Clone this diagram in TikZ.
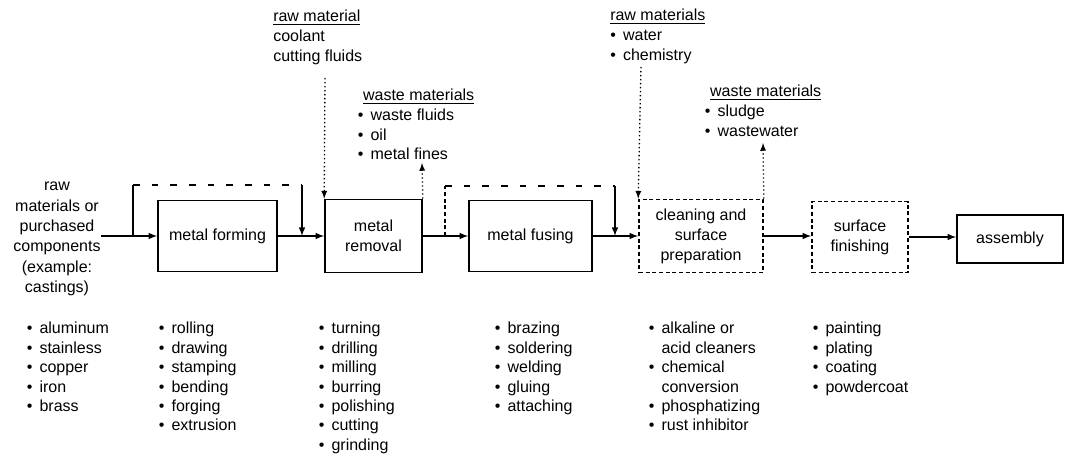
\documentclass[tikz,border=0pt]{standalone}
\usepackage{fontspec}
\setmainfont{Liberation Sans}
\usetikzlibrary{positioning}

\newcommand{\lstbul}{\textbullet\hspace{0.45em}}
\newcommand{\lstgap}{\hphantom{\textbullet}\hspace{0.45em}}

\begin{document}
\begin{tikzpicture}[x=0.75pt, y=-0.75pt, >=latex,
    stepbox/.style={draw, very thick, align=center, inner sep=0pt, font=\fontsize{12}{15}\selectfont},
    flow/.style={->, very thick},
    feed/.style={->, dotted, line width=1pt},
    bypass/.style={very thick, dash pattern=on 5pt off 9pt},
    labeltext/.style={anchor=north west, align=left, inner sep=0pt, font=\fontsize{12}{14.7}\selectfont},
    listtext/.style={anchor=north west, align=left, inner sep=0pt, font=\fontsize{12}{14.55}\selectfont}]

\useasboundingbox (0,0) rectangle (1065,460);

% Input text
\node[align=center, inner sep=0pt, font=\fontsize{12}{15.2}\selectfont] (rawin) at (57,239) {raw\\materials or\\purchased\\components\\(example:\\castings)};

% Process boxes
\node[stepbox, minimum width=89.25pt, minimum height=53.25pt] (forming) at (217.5,236) {metal forming};
\node[stepbox, minimum width=72.75pt, minimum height=54.75pt] (removal) at (373.5,236) {metal\\removal};
\node[stepbox, minimum width=92.25pt, minimum height=53.25pt] (fusing) at (530.5,236) {metal fusing};
\node[stepbox, densely dashed, minimum width=93pt, minimum height=54.75pt] (cleaning) at (701,236) {cleaning and\\surface\\preparation};
\node[stepbox, densely dashed, minimum width=72pt, minimum height=53.25pt] (finishing) at (860,237) {surface\\finishing};
\node[stepbox, minimum width=79.5pt, minimum height=36pt] (assembly) at (1010,239) {assembly};

% Main flow
\draw[flow] (rawin.east |- forming.west) -- (forming.west);
\draw[flow] (forming.east) -- (removal.west);
\draw[flow] (removal.east) -- (fusing.west);
\draw[flow] (fusing.east) -- (cleaning.west);
\draw[flow] (cleaning.east) -- (cleaning.east -| finishing.west);
\draw[flow] (finishing.east) -- (finishing.east -| assembly.west);

% Bypass lines
\coordinate (split1) at (133,236);
\coordinate (top1l) at (133,185);
\coordinate (top1r) at (302,185);
\coordinate (join1) at (302,236);
\draw[very thick] (split1) -- (top1l);
\draw[bypass] (top1l) -- (top1r);
\draw[flow] (top1r) -- (join1);

\coordinate (split2) at (445,236);
\coordinate (top2l) at (445,186);
\coordinate (top2r) at (615,186);
\coordinate (join2) at (615,236);
\draw[very thick, densely dashed] (split2) -- (top2l);
\draw[bypass] (top2l) -- (top2r);
\draw[flow] (top2r) -- (join2);

% Raw and waste materials
\node[labeltext] (rawmat1) at (273,10) {\underline{raw material}\\coolant\\cutting fluids};
\node[labeltext] (waste1) at (357.5,89) {\hspace{4pt}\underline{waste materials}\\\lstbul waste fluids\\\lstbul oil\\\lstbul metal fines};
\node[labeltext] (rawmat2) at (610,9) {\underline{raw materials}\\\lstbul water\\\lstbul chemistry};
\node[labeltext] (waste2) at (704.5,85) {\hspace{4pt}\underline{waste materials}\\\lstbul sludge\\\lstbul wastewater};

\coordinate (rm1) at (325,78);
\coordinate (wm1) at (422,163);
\coordinate (rm2) at (641,67);
\coordinate (wm2) at (763,143);
\draw[feed] (rm1) -- (removal.north west);
\draw[feed] (removal.north east) -- (wm1);
\draw[feed] (rm2) -- (cleaning.north west);
\draw[feed] (cleaning.north east) -- (wm2);

% Lists below
\node[listtext] (list1) at (26.5,322) {\lstbul aluminum\\\lstbul stainless\\\lstbul copper\\\lstbul iron\\\lstbul brass};
\node[listtext] (list2) at (158.5,322) {\lstbul rolling\\\lstbul drawing\\\lstbul stamping\\\lstbul bending\\\lstbul forging\\\lstbul extrusion};
\node[listtext] (list3) at (318.5,322) {\lstbul turning\\\lstbul drilling\\\lstbul milling\\\lstbul burring\\\lstbul polishing\\\lstbul cutting\\\lstbul grinding};
\node[listtext] (list4) at (494.5,322) {\lstbul brazing\\\lstbul soldering\\\lstbul welding\\\lstbul gluing\\\lstbul attaching};
\node[listtext] (list5) at (648.5,322) {\lstbul alkaline or\\\lstgap acid cleaners\\\lstbul chemical\\\lstgap conversion\\\lstbul phosphatizing\\\lstbul rust inhibitor};
\node[listtext] (list6) at (812.5,322) {\lstbul painting\\\lstbul plating\\\lstbul coating\\\lstbul powdercoat};
\end{tikzpicture}
\end{document}
